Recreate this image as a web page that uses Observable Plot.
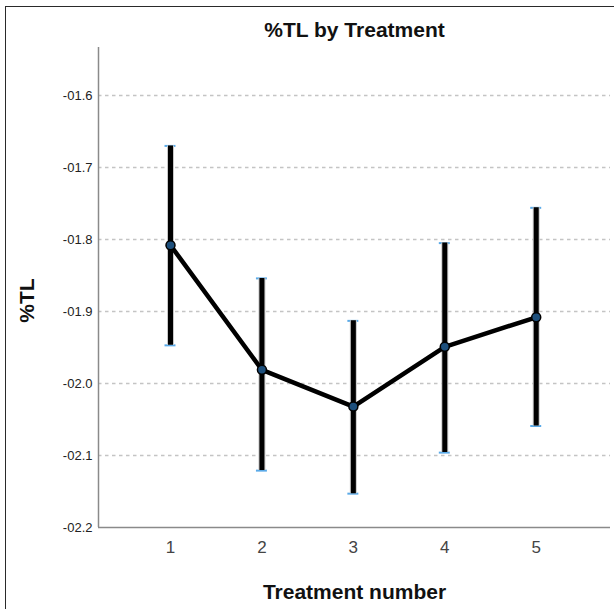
<!DOCTYPE html>
<html>
<head>
<meta charset="utf-8">
<script src="https://cdn.jsdelivr.net/npm/d3@7"></script>
<script src="https://cdn.jsdelivr.net/npm/@observablehq/plot@0.6"></script>
<style>
  html, body { margin: 0; padding: 0; background: #fff; overflow: hidden; }
  #wrap { position: relative; width: 614px; height: 609px; }
  #border { position: absolute; left: 5px; top: 6px; width: 700px; height: 700px;
            border: 1.5px solid #2a2a2a; pointer-events: none; }
  svg { font-family: "Liberation Sans", Arial, sans-serif; }
</style>
</head>
<body>
<div id="wrap"><div id="border"></div></div>
<script>
// Data
const treatments = [1, 2, 3, 4, 5];
const means = [-1.808, -1.981, -2.032, -1.949, -1.908];
const upper = [-1.670, -1.854, -1.913, -1.805, -1.756];
const lower = [-1.947, -2.121, -2.153, -2.096, -2.059];
const yTicks = [-1.6, -1.7, -1.8, -1.9, -2.0, -2.1, -2.2];
const gridTicks = [-1.6, -1.7, -1.8, -1.9, -2.0, -2.1];
const title = "%TL by Treatment";
const xLabel = "Treatment number";
const yLabel = "%TL";

const data = treatments.map((t, i) => ({t, mean: means[i], hi: upper[i], lo: lower[i]}));
const xDomain = [0.2125, 5.8125];
const yDomain = [-2.2, -1.5333];
const capHalf = 0.06;

const chart = Plot.plot({
  width: 614,
  height: 609,
  marginLeft: 98,
  marginRight: 4,
  marginTop: 47,
  marginBottom: 82,
  style: {fontFamily: "'Liberation Sans', Arial, sans-serif", background: "transparent"},
  x: {domain: xDomain, label: null},
  y: {domain: yDomain, label: null},
  marks: [
    Plot.ruleY(gridTicks, {stroke: "#c4c4c4", strokeWidth: 1.3, strokeDasharray: "3.5,3.5"}),
    Plot.ruleX([xDomain[0]], {stroke: "#8a8a8a", strokeWidth: 1.5}),
    Plot.ruleY([yDomain[0]], {stroke: "#8a8a8a", strokeWidth: 1.5}),
    Plot.axisY({ticks: yTicks, tickSize: 0, tickPadding: 6, fontSize: 13, fill: "#222",
                tickFormat: d => "-0" + Math.abs(d).toFixed(1), label: null}),
    Plot.axisX({ticks: treatments, tickSize: 0, tickPadding: 13, fontSize: 17, fill: "#444",
                tickFormat: d => String(d), label: null}),
    // caps
    Plot.ruleY(data, {y: "hi", x1: d => d.t - capHalf, x2: d => d.t + capHalf, stroke: "#5aaae8", strokeWidth: 2}),
    Plot.ruleY(data, {y: "lo", x1: d => d.t - capHalf, x2: d => d.t + capHalf, stroke: "#5aaae8", strokeWidth: 2}),
    // error bars
    Plot.ruleX(data, {x: "t", y1: "lo", y2: "hi", stroke: "#c8c8c8", strokeWidth: 7}),
    Plot.ruleX(data, {x: "t", y1: "lo", y2: "hi", stroke: "#000", strokeWidth: 5}),
    // mean line
    Plot.line(data, {x: "t", y: "mean", stroke: "#000", strokeWidth: 4.5}),
    Plot.dot(data, {x: "t", y: "mean", r: 4.5, fill: "#1d4f7c", stroke: "#000", strokeWidth: 1.5}),
    // texts
    Plot.text([title], {frameAnchor: "top", dy: -17, lineAnchor: "middle", textAnchor: "middle",
                        fontSize: 21, fontWeight: "bold", fill: "#111"}),
    Plot.text([xLabel], {frameAnchor: "bottom", dy: 65, lineAnchor: "middle", textAnchor: "middle",
                         fontSize: 21, fontWeight: "bold", fill: "#111"}),
    Plot.text([yLabel], {frameAnchor: "left", dx: -71, dy: 13, rotate: -90, lineAnchor: "middle", textAnchor: "middle",
                         fontSize: 21, fontWeight: "bold", fill: "#111"})
  ]
});
document.getElementById("wrap").prepend(chart);
</script>
</body>
</html>
